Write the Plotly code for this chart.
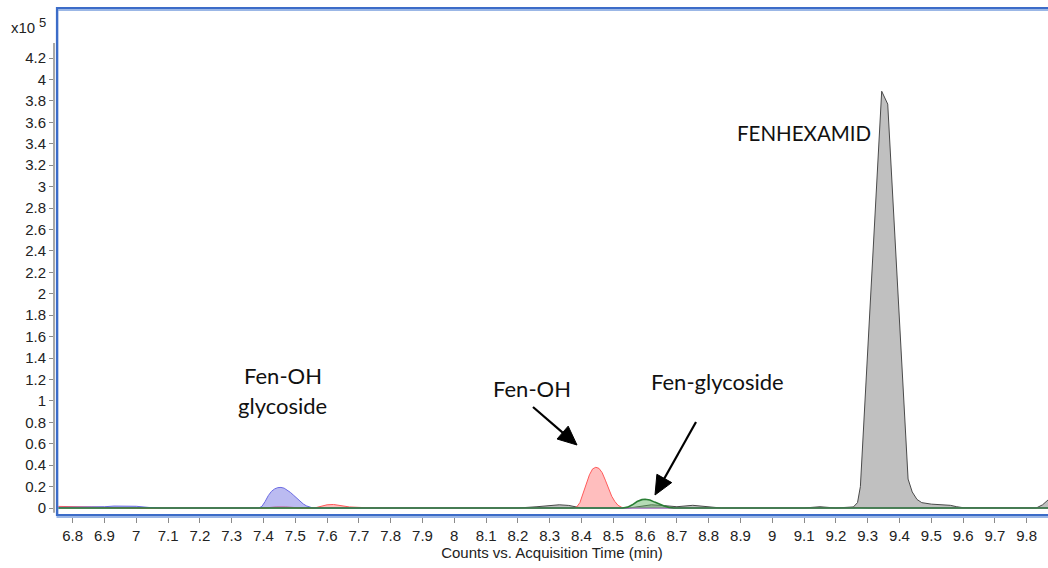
import math
import plotly.graph_objects as go

# Extracted ion chromatograms, counts in units of 1e5, time in minutes
fenhexamid_t = [6.75, 8.20, 8.26, 8.30, 8.33, 8.36, 8.40, 8.55, 8.58, 8.62, 8.66, 8.70, 8.75,
                8.80, 8.84, 9.10, 9.15, 9.20, 9.23, 9.255, 9.268, 9.277, 9.344, 9.363, 9.427,
                9.44, 9.455, 9.47, 9.50, 9.53, 9.56, 9.58, 9.60, 9.83, 9.85, 9.867]
fenhexamid_counts = [0.0, 0.0, 0.012, 0.026, 0.03, 0.024, 0.0, 0.0, 0.012, 0.03, 0.022, 0.012, 0.025,
                     0.008, 0.0, 0.0, 0.012, 0.0, 0.003, 0.01, 0.05, 0.2, 3.89, 3.77, 0.27,
                     0.15, 0.08, 0.05, 0.036, 0.032, 0.025, 0.012, 0.003, 0.0, 0.03, 0.075]

fen_oh_t = [6.75, 6.82, 6.86, 6.92, 7.00, 7.40, 7.44, 7.47, 7.52, 7.56, 7.58, 7.60, 7.62, 7.64,
            7.67, 7.72, 7.80, 8.375, 8.385, 8.395, 8.405, 8.415, 8.425, 8.435, 8.445, 8.455,
            8.465, 8.475, 8.485, 8.495, 8.505, 8.515, 8.525, 8.535, 9.24, 9.27, 9.30, 9.867]
fen_oh_counts = [0.015, 0.014, 0.01, 0.004, 0.0, 0.0, 0.01, 0.01, 0.0, 0.0, 0.015, 0.03, 0.033, 0.025,
                 0.01, 0.003, 0.0, 0.0, 0.01, 0.05, 0.13, 0.23, 0.31, 0.365, 0.38, 0.37,
                 0.33, 0.26, 0.18, 0.11, 0.06, 0.025, 0.008, 0.0, 0.0, 0.005, 0.0, 0.0]

fen_oh_glyc_t = [6.75, 6.85, 6.90, 6.93, 6.96, 7.00, 7.04, 7.08, 7.385, 7.395, 7.405, 7.415,
                 7.425, 7.435, 7.445, 7.455, 7.465, 7.475, 7.485, 7.495, 7.505, 7.515, 7.525,
                 7.535, 7.545, 7.555, 9.867]
fen_oh_glyc_counts = [0.005, 0.006, 0.012, 0.018, 0.02, 0.016, 0.005, 0.0, 0.0, 0.015, 0.06, 0.115,
                      0.155, 0.178, 0.19, 0.192, 0.185, 0.168, 0.145, 0.118, 0.09, 0.062, 0.038,
                      0.02, 0.008, 0.0, 0.0]

fen_glyc_t = [6.75, 8.53, 8.545, 8.56, 8.575, 8.59, 8.60, 8.615, 8.63, 8.645, 8.66, 8.675, 8.69, 9.867]
fen_glyc_counts = [0.0, 0.0, 0.008, 0.03, 0.06, 0.078, 0.082, 0.075, 0.055, 0.035, 0.018, 0.006, 0.0, 0.0]

x_tickvals = [6.8, 6.9, 7.0, 7.1, 7.2, 7.3, 7.4, 7.5, 7.6, 7.7, 7.8, 7.9, 8.0, 8.1, 8.2, 8.3,
              8.4, 8.5, 8.6, 8.7, 8.8, 8.9, 9.0, 9.1, 9.2, 9.3, 9.4, 9.5, 9.6, 9.7, 9.8]
x_ticktext = ["6.8", "6.9", "7", "7.1", "7.2", "7.3", "7.4", "7.5", "7.6", "7.7", "7.8", "7.9", "8",
              "8.1", "8.2", "8.3", "8.4", "8.5", "8.6", "8.7", "8.8", "8.9", "9", "9.1", "9.2",
              "9.3", "9.4", "9.5", "9.6", "9.7", "9.8"]
y_tickvals = [0, 0.2, 0.4, 0.6, 0.8, 1.0, 1.2, 1.4, 1.6, 1.8, 2.0, 2.2, 2.4, 2.6, 2.8, 3.0,
              3.2, 3.4, 3.6, 3.8, 4.0, 4.2]
y_ticktext = ["0", "0.2", "0.4", "0.6", "0.8", "1", "1.2", "1.4", "1.6", "1.8", "2", "2.2",
              "2.4", "2.6", "2.8", "3", "3.2", "3.4", "3.6", "3.8", "4", "4.2"]

X_RANGE = [6.7475, 9.867]
Y_RANGE = [-0.084, 4.667]

TICK_FONT = dict(family="Liberation Sans, Arial, sans-serif", size=15, color="#222222")
EXP_FONT = dict(family="Liberation Sans, Arial, sans-serif", size=13, color="#222222")
LABEL_FONT = dict(family="Lato, Open Sans, sans-serif", size=22, color="#111111")
TITLE_FONT = dict(family="Lato, Open Sans, sans-serif", size=20.5, color="#111111")

fig = go.Figure()


def add_trace(t, c, line_color, fill_color, width=1.0):
    fig.add_trace(go.Scatter(
        x=t, y=c, mode="lines", fill="tozeroy", fillcolor=fill_color,
        line=dict(color=line_color, width=width), hoverinfo="skip"))


add_trace(fenhexamid_t, fenhexamid_counts, "#4a4a4a", "#c0c0c0")
add_trace(fen_oh_t, fen_oh_counts, "#ff5a5a", "rgba(255,110,110,0.45)")
add_trace(fen_oh_glyc_t, fen_oh_glyc_counts, "#6b6be3", "rgba(105,105,225,0.45)")
add_trace(fen_glyc_t, fen_glyc_counts, "#2a7f35", "rgba(90,175,90,0.45)", width=1.6)

# page geometry (px): plot area 54..1048 horizontally, 8..517 vertically
PLOT_L, PLOT_T, PLOT_B = 54, 8, 517
PLOT_W = 1048 - PLOT_L
PLOT_H = PLOT_B - PLOT_T
DATA_L = 56

fig.update_layout(
    width=1048, height=568,
    margin=dict(l=PLOT_L, r=0, t=PLOT_T, b=568 - PLOT_B),
    paper_bgcolor="white", plot_bgcolor="white",
    showlegend=False,
    xaxis=dict(
        domain=[(DATA_L - PLOT_L) / PLOT_W, 1], range=X_RANGE,
        tickvals=x_tickvals, ticktext=x_ticktext,
        ticks="outside", ticklen=5, tickcolor="#8a8a8a", tickwidth=1,
        showgrid=False, zeroline=False, showline=False,
        tickfont=TICK_FONT,
        title=dict(text="Counts vs. Acquisition Time (min)", font=TICK_FONT, standoff=3),
    ),
    yaxis=dict(
        anchor="free", position=0, range=Y_RANGE,
        tickvals=y_tickvals, ticktext=y_ticktext,
        ticks="outside", ticklen=5, tickcolor="#8a8a8a", tickwidth=1,
        showgrid=False, zeroline=False, showline=False,
        tickfont=TICK_FONT,
    ),
)


def px_x(px):
    return (px - PLOT_L) / PLOT_W


def px_y(py):
    return (PLOT_B - py) / PLOT_H


def data_x(px):
    return X_RANGE[0] + (px - DATA_L) * (X_RANGE[1] - X_RANGE[0]) / (1048 - DATA_L)


def data_y(py):
    return Y_RANGE[0] + (PLOT_B - py) * (Y_RANGE[1] - Y_RANGE[0]) / PLOT_H


# grey y axis line
fig.add_shape(type="line", xref="paper", yref="y", x0=0, x1=0, y0=-0.045, y1=4.34,
              line=dict(color="#a8a8a8", width=2))

# selection frame around the chromatogram
fig.add_shape(type="rect", xref="paper", yref="paper",
              x0=px_x(57.5), x1=px_x(1060), y0=px_y(517), y1=px_y(10),
              line=dict(color="#9bb7e6", width=2), fillcolor="rgba(0,0,0,0)")
fig.add_shape(type="rect", xref="paper", yref="paper",
              x0=px_x(57), x1=px_x(1060), y0=px_y(515), y1=px_y(8),
              line=dict(color="#3c6cc8", width=2.2), fillcolor="rgba(0,0,0,0)")


def add_arrow(tail, tip, head_len=19, head_half=8.5):
    """Black arrow from tail to tip, both given in page pixels."""
    dx, dy = tip[0] - tail[0], tip[1] - tail[1]
    n = math.hypot(dx, dy)
    ux, uy = dx / n, dy / n
    bx, by = tip[0] - ux * head_len, tip[1] - uy * head_len
    fig.add_shape(type="line", xref="x", yref="y",
                  x0=data_x(tail[0]), y0=data_y(tail[1]),
                  x1=data_x(bx + ux * 2), y1=data_y(by + uy * 2),
                  line=dict(color="#000000", width=2.2))
    p1 = (bx - uy * head_half, by + ux * head_half)
    p2 = (bx + uy * head_half, by - ux * head_half)
    path = "M {},{} L {},{} L {},{} Z".format(
        data_x(tip[0]), data_y(tip[1]), data_x(p1[0]), data_y(p1[1]),
        data_x(p2[0]), data_y(p2[1]))
    fig.add_shape(type="path", xref="x", yref="y", path=path,
                  fillcolor="#000000", line=dict(color="#000000", width=1))


add_arrow((533, 407), (577, 445))
add_arrow((696, 422), (655, 495))

annotations = [
    dict(xref="paper", yref="paper", x=px_x(9), y=px_y(28), xanchor="left", yanchor="middle",
         text="x10", showarrow=False, font=TICK_FONT),
    dict(xref="paper", yref="paper", x=px_x(37), y=px_y(22), xanchor="left", yanchor="middle",
         text="5", showarrow=False, font=EXP_FONT),
    dict(x=9.10, y=3.50, text="FENHEXAMID", showarrow=False, font=TITLE_FONT),
    dict(x=7.461, y=1.235, text="Fen-OH", showarrow=False, font=LABEL_FONT),
    dict(x=7.461, y=0.960, text="glycoside", showarrow=False, font=LABEL_FONT),
    dict(x=8.243, y=1.111, text="Fen-OH", showarrow=False, font=LABEL_FONT),
    dict(x=8.829, y=1.185, text="Fen-glycoside", showarrow=False, font=LABEL_FONT),
]
fig.update_layout(annotations=annotations)

fig.write_html("out.html")
